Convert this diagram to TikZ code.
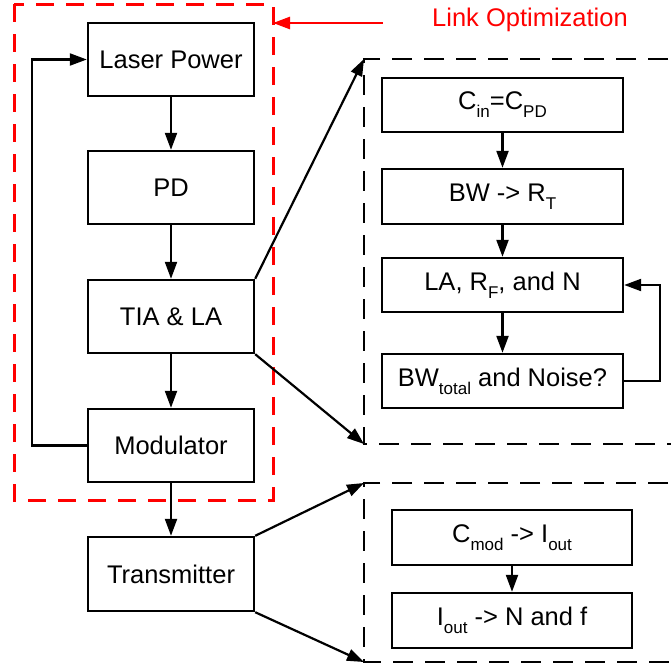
\documentclass[tikz,border=0pt]{standalone}
\usepackage{fontspec}
\setmainfont{Liberation Sans}
\usetikzlibrary{arrows.meta}
\newcommand\lowtext[1]{\raisebox{-0.32em}{\fontsize{17}{17}\selectfont #1}}
\begin{document}
\begin{tikzpicture}[x=1pt,y=-1pt,
  blk/.style={draw, line width=2.4pt, inner sep=0pt, minimum width=166pt, minimum height=73pt,
    font=\fontsize{25.5}{30}\selectfont},
  rblk/.style={blk, minimum width=241pt, minimum height=54pt},
  tblk/.style={blk, minimum width=240pt, minimum height=55pt},
  flow/.style={line width=2.2pt, -{Triangle[length=17pt,width=12pt]}},
  group/.style={line width=2.6pt, dash pattern=on 20pt off 12pt},
]
\useasboundingbox (0,0) rectangle (671,667);
\clip (0,0) rectangle (671,667);

% link optimization frame
\draw[group, red, line width=3pt, dash pattern=on 18pt off 12pt] (14,4) rectangle (273,500);
\coordinate (lofr) at (273,23);
\coordinate (lotail) at (383,23);
\draw[line width=2.6pt, red, -{Triangle[length=17pt,width=12pt]}] (lotail) -- (lofr);
\node[text=red, font=\fontsize{25.5}{30}\selectfont] (lo) at (530,20) {Link Optimization};

% main chain
\node[blk] (laser) at (171,59.5) {Laser Power};
\node[blk] (pd) at (171,187.5) {PD};
\node[blk] (tia) at (171,316.5) {TIA \& LA};
\node[blk] (mod) at (171,445.5) {Modulator};
\node[blk, minimum height=74pt] (tx) at (171,574) {Transmitter};

\draw[flow] (laser) -- (pd);
\draw[flow] (pd) -- (tia);
\draw[flow] (tia) -- (mod);
\draw[flow] (mod) -- (tx);
\draw[flow] (mod.west) -- ++(-55,0) |- (laser.west);

% TIA detail frame
\coordinate (ga) at (364,59);
\coordinate (gb) at (364,444);
\draw[group] (700,59) -- (ga) -- (gb) -- (700,444);
\node[rblk] (cin) at (502.5,105) {C\lowtext{in}=C\lowtext{PD}};
\node[rblk, minimum height=55pt] (bw) at (502.5,196.5) {BW -> R\lowtext{T}};
\node[rblk] (la) at (502.5,285) {LA, R\lowtext{F}, and N};
\node[rblk] (bwt) at (502.5,381) {BW\lowtext{total} and Noise?};
\draw[flow] (cin) -- (bw);
\draw[flow] (bw) -- (la);
\draw[flow] (la) -- (bwt);
\draw[flow] (bwt.east) -- ++(36,0) |- (la.east);

% transmitter detail frame
\coordinate (gc) at (364,483);
\coordinate (gd) at (364,662);
\draw[group] (700,483) -- (gc) -- (gd) -- (700,662);
\node[tblk] (cmod) at (512,537.5) {C\lowtext{mod} -> I\lowtext{out}};
\node[tblk] (iout) at (512,620.5) {I\lowtext{out} -> N and f};
\draw[flow] (cmod) -- (iout);

% zoom-out connectors
\draw[flow] (tia.north east) -- (ga);
\draw[flow] (tia.south east) -- (gb);
\draw[flow] (tx.north east) -- (gc);
\draw[flow] (tx.south east) -- (gd);
\end{tikzpicture}
\end{document}
